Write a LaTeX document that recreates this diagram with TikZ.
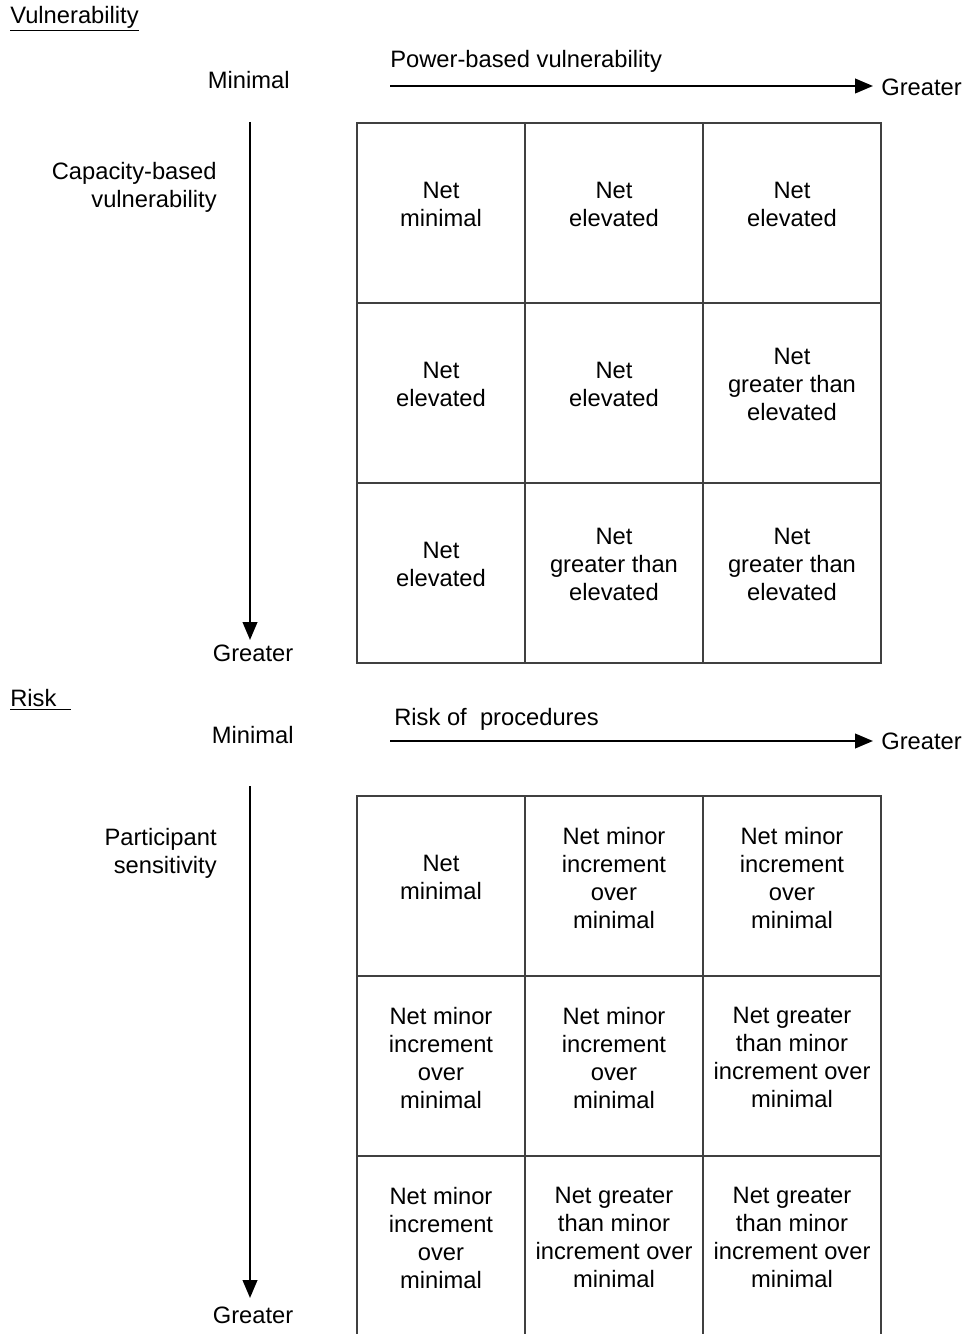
\documentclass[tikz,border=0pt]{standalone}
\usepackage{fontspec}
\setmainfont{Liberation Sans}
\usetikzlibrary{arrows.meta}

\tikzset{
	cell/.style={draw=black!75, line width=0.8pt, align=center, minimum height=3.6cm, inner sep=0pt, text depth=0.34cm},
	narrowcell/.style={cell, minimum width=3.36cm},
	widecell/.style={cell, minimum width=3.56cm},
	axis/.style={line width=1.4pt, -{Triangle[length=3.6mm, width=2.9mm]}},
}

\begin{document}
\begin{tikzpicture}[x=0.02cm, y=-0.02cm, font=\fontsize{13.5}{15.9}\selectfont]
	% Frame:
	\useasboundingbox (0, 0) rectangle (971, 1334);

	% Vulnerability part:
	\node[anchor=west, inner sep=0pt](vtitle) at (10, 19){\underline{Vulnerability}};
	\node[anchor=east, inner sep=0pt](vmin) at (290, 80){Minimal};
	\node[anchor=west, inner sep=0pt](powlab) at (390, 61){Power-based vulnerability};
	\node[anchor=west, inner sep=0pt](vgreaterh) at (881, 87){Greater};
	\node[inner sep=0pt](vgreaterv) at (253, 653){Greater};
	\node[anchor=east, align=right, inner sep=0pt](caplab) at (217, 187){Capacity-based\\vulnerability};
	\coordinate (vhstart) at (390, 86);
	\coordinate (vvstart) at (250, 122);
	\draw[axis] (vhstart) -- (873, 86);
	\draw[axis] (vvstart) -- (250, 640);

	% Vulnerability grid:
	\node[narrowcell](v11) at (441, 213){Net\\minimal};
	\node[widecell](v12) at (614, 213){Net\\elevated};
	\node[widecell](v13) at (792, 213){Net\\elevated};
	\node[narrowcell](v21) at (441, 393){Net\\elevated};
	\node[widecell](v22) at (614, 393){Net\\elevated};
	\node[widecell](v23) at (792, 393){Net\\greater than\\elevated};
	\node[narrowcell](v31) at (441, 573){Net\\elevated};
	\node[widecell](v32) at (614, 573){Net\\greater than\\elevated};
	\node[widecell](v33) at (792, 573){Net\\greater than\\elevated};

	% Risk part:
	\node[anchor=west, inner sep=0pt](rtitle) at (10, 700){\underline{Risk\hspace{0.6em}}};
	\node[anchor=east, inner sep=0pt](rmin) at (294, 735){Minimal};
	\node[anchor=west, inner sep=0pt](proclab) at (394, 719){Risk of\ \ procedures};
	\node[anchor=west, inner sep=0pt](rgreaterh) at (881, 741){Greater};
	\node[inner sep=0pt](rgreaterv) at (253, 1315){Greater};
	\node[anchor=east, align=right, inner sep=0pt](partlab) at (217, 853){Participant\\sensitivity};
	\coordinate (rhstart) at (390, 741);
	\coordinate (rvstart) at (250, 786);
	\draw[axis] (rhstart) -- (873, 741);
	\draw[axis] (rvstart) -- (250, 1298);

	% Risk grid:
	\node[narrowcell](r11) at (441, 886){Net\\minimal};
	\node[widecell](r12) at (614, 886){Net minor\\increment\\over\\minimal};
	\node[widecell](r13) at (792, 886){Net minor\\increment\\over\\minimal};
	\node[narrowcell](r21) at (441, 1066){Net minor\\increment\\over\\minimal};
	\node[widecell](r22) at (614, 1066){Net minor\\increment\\over\\minimal};
	\node[widecell](r23) at (792, 1066){Net greater\\than minor\\increment over\\minimal};
	\node[narrowcell](r31) at (441, 1246){Net minor\\increment\\over\\minimal};
	\node[widecell](r32) at (614, 1246){Net greater\\than minor\\increment over\\minimal};
	\node[widecell](r33) at (792, 1246){Net greater\\than minor\\increment over\\minimal};
\end{tikzpicture}
\end{document}
